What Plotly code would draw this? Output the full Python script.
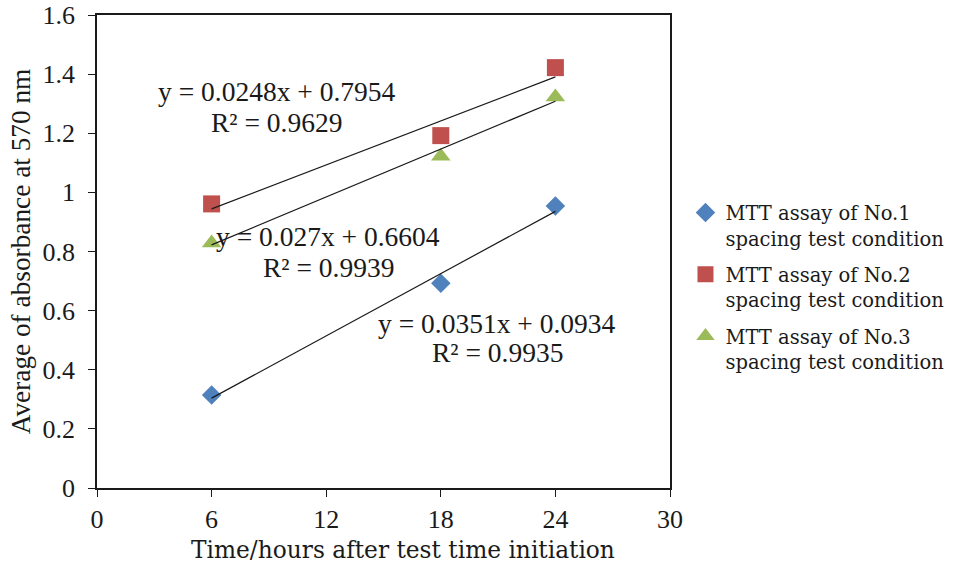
import plotly.graph_objects as go

# ---- data ----
hours = [6, 18, 24]
series_names = [
    "MTT assay of No.1<br>spacing test condition",
    "MTT assay of No.2<br>spacing test condition",
    "MTT assay of No.3<br>spacing test condition",
]
abs_no1 = [0.315, 0.693, 0.954]
abs_no2 = [0.961, 1.192, 1.422]
abs_no3 = [0.829, 1.122, 1.323]

# trendline coefficients as printed on the chart
slopes = [0.0351, 0.0248, 0.027]
intercepts = [0.0934, 0.7954, 0.6604]
r2_values = ["0.9935", "0.9629", "0.9939"]
eq_slope_txt = ["0.0351", "0.0248", "0.027"]
eq_int_txt = ["0.0934", "0.7954", "0.6604"]
eq_pos_x = [20.95, 9.4, 12.1]
eq_pos_y = [0.558, 1.340, 0.850]
r2_pos_y = [0.457, 1.236, 0.745]

x_ticks = [0, 6, 12, 18, 24, 30]
y_ticks = [0, 0.2, 0.4, 0.6, 0.8, 1.0, 1.2, 1.4, 1.6]
x_title = "Time/hours after test time initiation"
y_title = "Average of absorbance at 570 nm"

colors = ["#4F81BD", "#C0504D", "#9BBB59"]
symbols = ["diamond", "square", "triangle-up"]
sizes = [15, 17, 17]

fig = go.Figure()
all_series = [abs_no1, abs_no2, abs_no3]

for i, ys in enumerate(all_series):
    fig.add_trace(go.Scatter(
        x=hours, y=ys, mode="markers", name=series_names[i],
        legendgroup=f"g{i}",
        marker=dict(color=colors[i], symbol=symbols[i], size=sizes[i],
                    line=dict(width=0)),
    ))

# trendlines (drawn on top of markers like Excel does)
for i in range(3):
    xs = [hours[0], hours[-1]]
    ys = [slopes[i] * x + intercepts[i] for x in xs]
    fig.add_trace(go.Scatter(
        x=xs, y=ys, mode="lines", showlegend=False,
        line=dict(color="#1a1a1a", width=1.2), hoverinfo="skip",
    ))

serif = "Liberation Serif"
for i in range(3):
    fig.add_annotation(x=eq_pos_x[i], y=eq_pos_y[i], xref="x", yref="y",
                       text=f"y = {eq_slope_txt[i]}x + {eq_int_txt[i]}",
                       showarrow=False, font=dict(family=serif, size=27.5, color="#1a1a1a"))
    fig.add_annotation(x=eq_pos_x[i], y=r2_pos_y[i], xref="x", yref="y",
                       text=f"R² = {r2_values[i]}",
                       showarrow=False, font=dict(family=serif, size=27.5, color="#1a1a1a"))

# x-axis title (slightly right of centre in the reference)
fig.add_annotation(x=0.534, y=-0.131, xref="paper", yref="paper",
                   xanchor="center", yanchor="middle", showarrow=False,
                   text=x_title,
                   font=dict(family="DejaVu Serif", size=23.3, color="#1a1a1a"))

fig.update_layout(
    width=956, height=568,
    margin=dict(l=97, r=286, t=15, b=80, autoexpand=False),
    paper_bgcolor="white", plot_bgcolor="rgba(0,0,0,0)",
    font=dict(family=serif, size=25, color="#1a1a1a"),
    legend=dict(x=1.027, y=0.424, xanchor="left", yanchor="middle",
                font=dict(family="DejaVu Serif", size=19.5, color="#1a1a1a"),
                tracegroupgap=8, itemwidth=30, valign="top",
                bgcolor="rgba(0,0,0,0)"),
    showlegend=True,
)
fig.update_xaxes(
    range=[0, 30], tickvals=x_ticks, ticks="outside", ticklen=7, tickcolor="#1a1a1a",
    showline=True, linecolor="#1a1a1a", linewidth=1.5, mirror=True, showgrid=False,
    zeroline=False, tickfont=dict(family=serif, size=26), automargin=False,
    ticklabeloverflow="allow",
)
fig.update_yaxes(
    range=[0, 1.6], tickvals=y_ticks, ticks="outside", ticklen=7, tickcolor="#1a1a1a",
    showline=True, linecolor="#1a1a1a", linewidth=1.5, mirror=True, showgrid=False,
    zeroline=False, tickfont=dict(family=serif, size=26), automargin=False,
    ticklabelstandoff=8, ticklabeloverflow="allow",
    title=dict(text=y_title, font=dict(family=serif, size=27.3), standoff=4),
)

fig.write_html(
    "out.html",
    config={"displayModeBar": False},
    post_script="document.body.style.margin='0';document.body.style.overflow='hidden';",
)
